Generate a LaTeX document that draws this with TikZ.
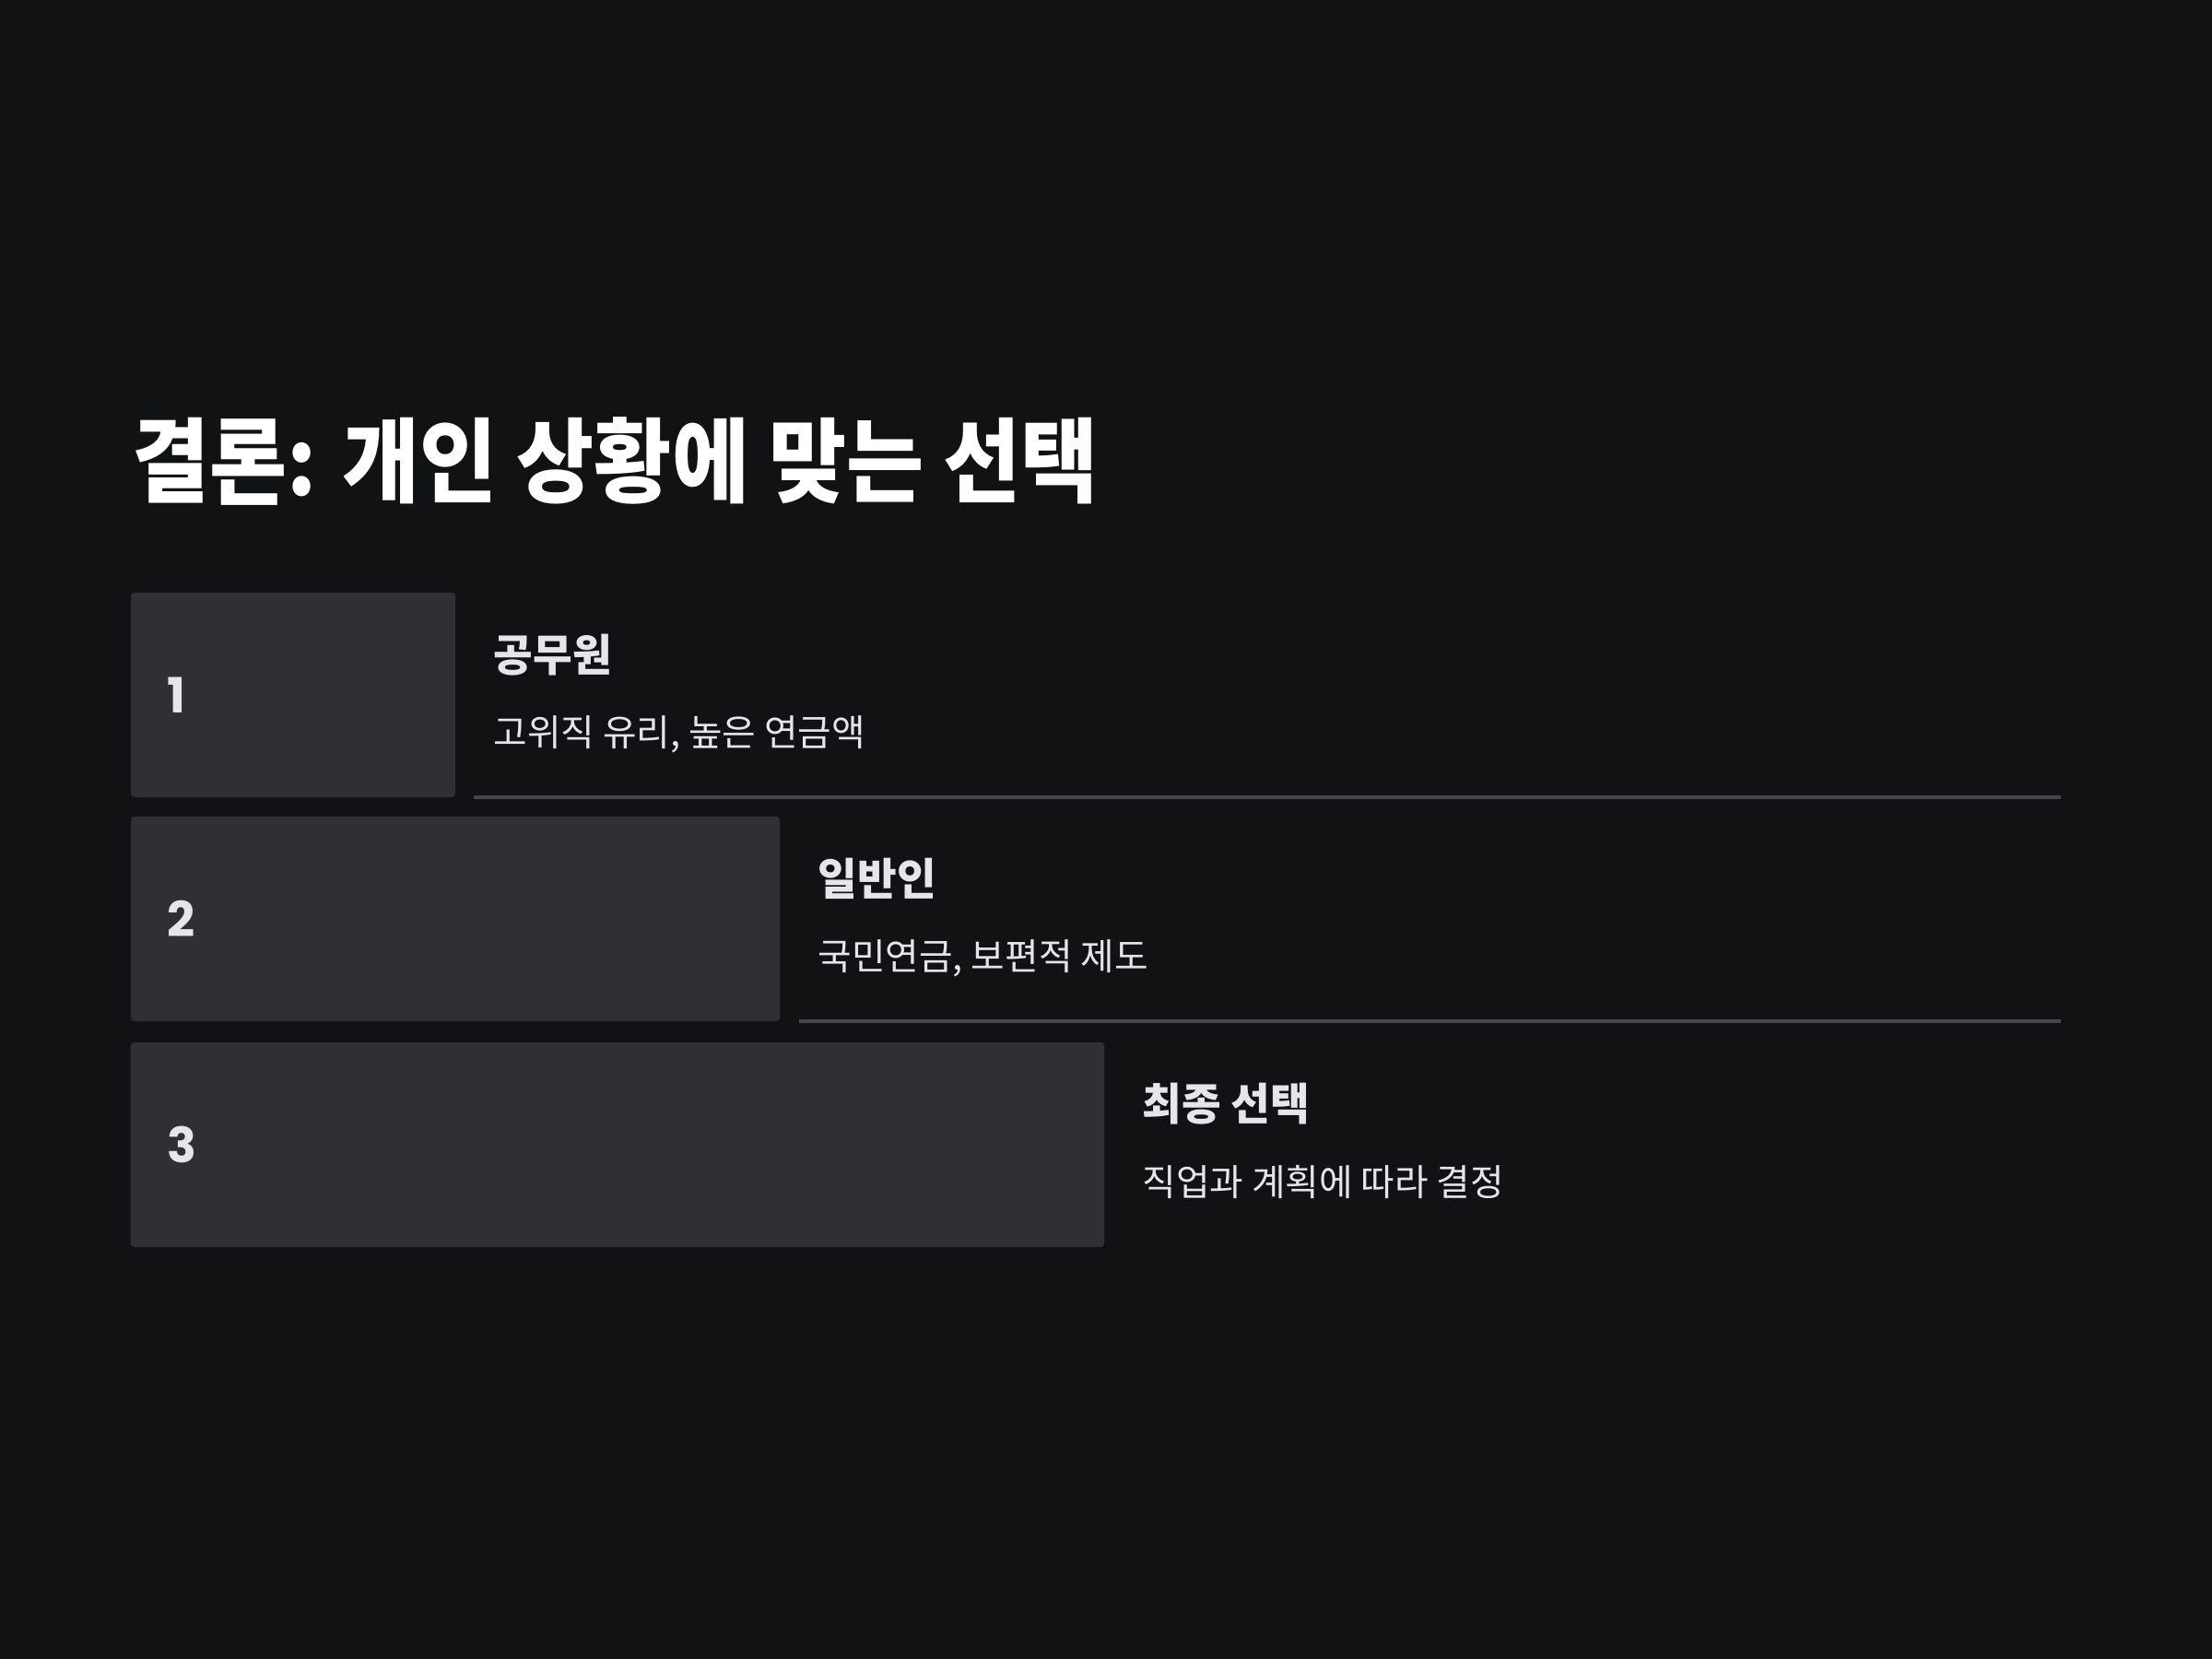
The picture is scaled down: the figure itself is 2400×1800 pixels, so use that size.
\documentclass[tikz,border=0pt]{standalone}
\usepackage{fontspec}
\newfontfamily\krtitle[FakeStretch=0.915]{Noto Sans CJK KR}
\newfontfamily\krhead[FakeStretch=0.97]{Noto Sans CJK KR}
\newfontfamily\krbody{Noto Sans CJK KR}
\newfontfamily\popfont{Poppins}
\definecolor{bgc}{HTML}{111214}
\definecolor{boxc}{HTML}{2F3033}
\definecolor{linec}{HTML}{46474A}
\definecolor{txtc}{HTML}{E4E6E9}
\tikzset{
  stepbox/.style={fill=boxc, rounded corners=0.04cm, minimum height=2.22cm, inner sep=0pt, draw=none},
  numtext/.style={anchor=west, inner sep=0pt, text=txtc, font=\popfont\bfseries\fontsize{15}{18}\selectfont},
  headtext/.style={anchor=base west, inner sep=0pt, text=txtc, font=\krhead\bfseries\fontsize{13.6}{16}\selectfont},
  bodytext/.style={anchor=base west, inner sep=0pt, text=txtc, font=\krbody\fontsize{11.3}{14}\selectfont},
  sepline/.style={draw=linec, line width=0.9pt}
}
\begin{document}
\begin{tikzpicture}[x=0.01cm, y=-0.01cm]
\fill[bgc] (0,0) rectangle (2400,1800);
\useasboundingbox (0,0) rectangle (2400,1800);
\node[anchor=base west, inner sep=0pt, text=white, font=\krtitle\bfseries\fontsize{28.4}{34}\selectfont] (title) at (143,537) {결론: 개인 상황에 맞는 선택};
% row 1
\node[stepbox, minimum width=3.52cm] (b1) at (318,754) {};
\node[numtext] (n1) at (181,754) {1};
\node[headtext] (h1) at (535,728) {공무원};
\node[bodytext] (d1) at (535,809) {고위직 유리, 높은 연금액};
\coordinate (l1a) at (514,865);
\coordinate (l1b) at (2236,865);
\draw[sepline] (l1a) -- (l1b);
% row 2
\node[stepbox, minimum width=7.04cm] (b2) at (494,997) {};
\node[numtext] (n2) at (181,997) {2};
\node[headtext] (h2) at (887,971) {일반인};
\node[bodytext] (d2) at (887,1052) {국민연금, 보편적 제도};
\coordinate (l2a) at (867,1108);
\coordinate (l2b) at (2236,1108);
\draw[sepline] (l2a) -- (l2b);
% row 3
\node[stepbox, minimum width=10.56cm] (b3) at (670,1242) {};
\node[numtext] (n3) at (181,1242) {3};
\node[headtext] (h3) at (1239,1215) {최종 선택};
\node[bodytext] (d3) at (1239,1297) {직업과 계획에 따라 결정};
\end{tikzpicture}
\end{document}
